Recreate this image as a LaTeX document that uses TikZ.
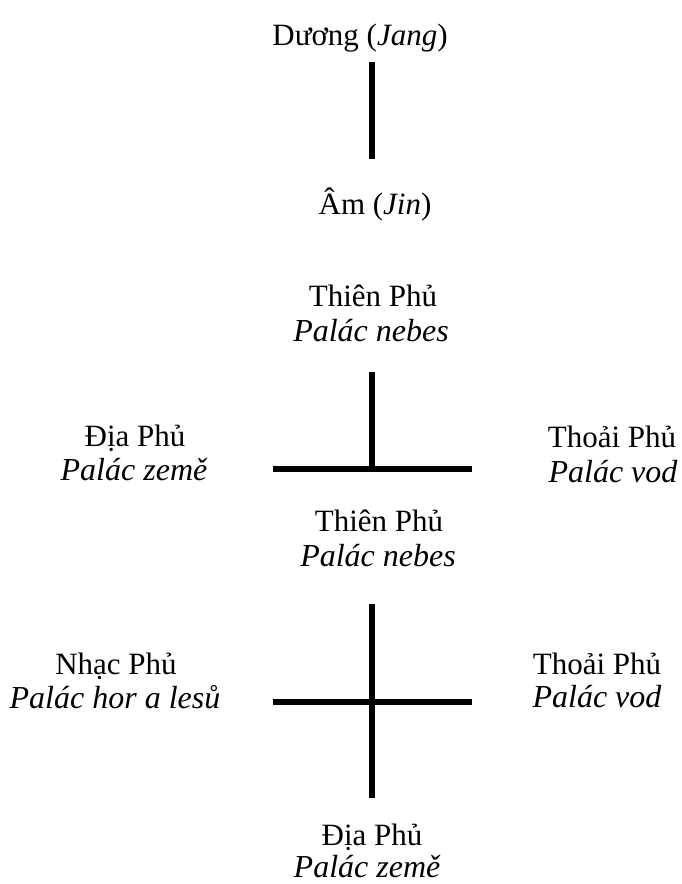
\documentclass[tikz,border=0pt]{standalone}
\usepackage{fontspec}
\setmainfont{Liberation Serif}
\begin{document}
\begin{tikzpicture}[x=1pt,y=-1pt,
  lbl/.style={anchor=base,inner sep=0pt,font=\fontsize{31}{36}\selectfont},
  sub/.style={lbl,font=\fontsize{32}{36}\selectfont\itshape},
  bar/.style={line width=5.6pt,line cap=butt}]
\useasboundingbox[fill=white] (0,0) rectangle (682,884);

% top pair
\node[lbl] (yang) at (360,45) {Dương (\textit{Jang})};
\node[lbl] (yin) at (375,214) {Âm (\textit{Jin})};
\coordinate (a1) at (372,62);
\coordinate (a2) at (372,159);
\draw[bar] (a1) -- (a2);

% T diagram
\node[lbl] (t1) at (373,306) {Thiên Phủ};
\node[sub] (t1s) at (371,341) {Palác nebes};
\node[lbl] (d1) at (135,446) {Địa Phủ};
\node[sub] (d1s) at (134,480) {Palác země};
\node[lbl] (w1) at (612,447) {Thoải Phủ};
\node[sub] (w1s) at (613,482) {Palác vod};
\coordinate (b1) at (372,372);
\coordinate (b2) at (372,469);
\coordinate (bl) at (273,469);
\coordinate (br) at (472,469);
\draw[bar] (b1) -- (b2);
\draw[bar] (bl) -- (br);

% cross diagram
\node[lbl] (t2) at (379,531) {Thiên Phủ};
\node[sub] (t2s) at (378,566) {Palác nebes};
\node[lbl] (n2) at (116,674) {Nhạc Phủ};
\node[sub] (n2s) at (115,708) {Palác hor a lesů};
\node[lbl] (w2) at (597,674) {Thoải Phủ};
\node[sub] (w2s) at (597,707) {Palác vod};
\node[lbl] (d2) at (372,845) {Địa Phủ};
\node[sub] (d2s) at (367,877) {Palác země};
\coordinate (c1) at (372,604);
\coordinate (c2) at (372,798);
\coordinate (cl) at (273,702);
\coordinate (cr) at (472,702);
\draw[bar] (c1) -- (c2);
\draw[bar] (cl) -- (cr);
\end{tikzpicture}
\end{document}
